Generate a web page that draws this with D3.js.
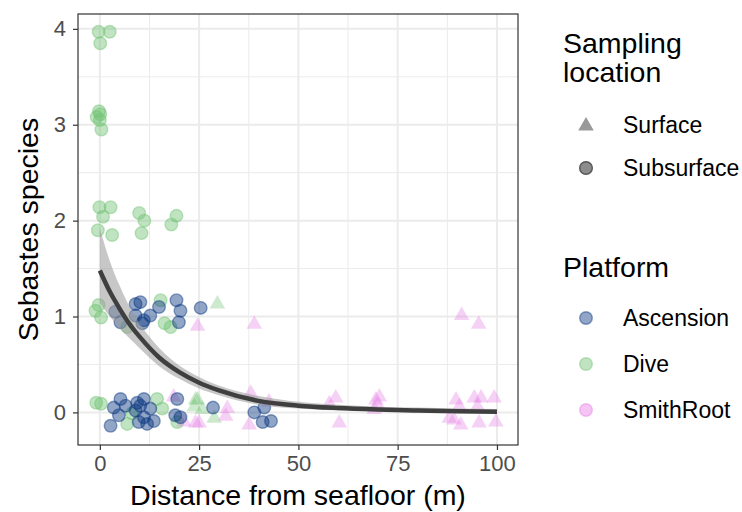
<!DOCTYPE html>
<html>
<head>
<meta charset="utf-8">
<script src="https://cdn.jsdelivr.net/npm/d3@7"></script>
<style>
  body { margin: 0; background: #fff; }
  text { font-family: "Liberation Sans", Arial, sans-serif; }
</style>
</head>
<body>
<div id="chart"></div>
<script>
// points, [distance, species] (jittered values)
const diveSub = [
  [-0.3,3.97],[2.5,3.97],[0.1,3.85],
  [-0.2,3.14],[0.1,3.11],[-0.8,3.08],[0.0,3.05],[0.4,2.95],
  [-0.1,2.14],[2.7,2.14],[0.8,2.04],[-0.5,1.90],[3.1,1.85],[9.9,2.08],[11.2,2.0],[10.5,1.87],[19.3,2.05],[18.0,1.96],
  [-0.3,1.12],[-1.1,1.06],[0.3,0.99],[6.9,0.89],[15.3,1.17],[16.3,0.93],[17.8,0.89],
  [-0.9,0.10],[0.3,0.09],[6.9,-0.12],[14.4,0.14],[15.7,0.04],[8.1,-0.01],[19.5,-0.10]
];
const diveSurf = [
  [29.6,1.14],[24.1,0.14],[24.6,0.14],[23.8,0.07],[25.8,0.04],[28.8,-0.05]
];
const ascensionSub = [
  [3.9,1.05],[5.2,0.94],[9.0,1.13],[10.2,1.15],[9.0,1.01],[10.7,0.93],[11.1,0.96],[12.7,1.01],
  [14.9,1.10],[19.3,1.17],[20.3,1.06],[19.9,0.94],[25.4,1.09],
  [5.2,0.14],[3.5,0.05],[4.8,-0.03],[2.7,-0.14],[6.5,0.07],[9.4,0.10],[10.2,0.07],[11.1,0.14],
  [9.0,0.02],[12.7,0.04],[9.8,-0.10],[11.9,-0.12],[13.6,-0.09],[11.1,-0.05],[19.5,0.14],
  [19.0,-0.03],[20.3,-0.05],[28.5,0.05],[38.9,0.0],[41.4,0.05],[41.0,-0.10],[43.1,-0.09]
];
const smithSurf = [
  [24.6,0.91],[38.9,0.93],[91.1,1.02],[95.4,0.93],
  [18.6,0.17],[21.2,-0.09],[24.1,-0.10],[25.0,-0.10],[32.1,0.05],[31.7,-0.03],[38.0,0.21],
  [37.6,-0.12],[42.6,0.12],[57.8,0.10],[59.4,0.16],[60.3,-0.10],[69.5,0.14],[69.1,0.04],
  [70.4,0.17],[69.9,0.09],[89.7,0.14],[90.5,0.07],[89.2,-0.07],[90.9,-0.12],[94.3,0.16],
  [96.0,0.16],[95.1,0.07],[95.5,-0.10],[99.3,0.16],[99.7,-0.09],[88.0,-0.05]
];

// fitted curve and ribbon
const fitX     = [0, 2.5, 5, 7.5, 10, 15, 20, 25, 30, 40, 50, 60, 70, 80, 90, 100];
const fitY     = [1.48, 1.26, 1.08, 0.92, 0.79, 0.57, 0.42, 0.31, 0.23, 0.12, 0.07, 0.045, 0.03, 0.02, 0.012, 0.008];
const fitUpper = [1.92, 1.58, 1.32, 1.10, 0.93, 0.67, 0.49, 0.37, 0.28, 0.17, 0.11, 0.08, 0.06, 0.05, 0.04, 0.035];
const fitLower = [1.14, 1.00, 0.88, 0.77, 0.67, 0.48, 0.35, 0.25, 0.18, 0.08, 0.04, 0.02, 0.01, 0.005, 0.002, 0.001];

const xTicks = [0, 25, 50, 75, 100];
const yTicks = [0, 1, 2, 3, 4];
const platforms = ["Ascension", "Dive", "SmithRoot"];
const platformColors = ["#0b3880", "#74c476", "#e67fe6"];
const locations = ["Surface", "Subsurface"];

const width = 742, height = 512;
const margin = {left:78, right:224, top:14, bottom:67};

const titleSize = 28.5, legendSize = 23, tickSize = 22;

let svg = d3.select("#chart").append("svg")
            .attr("width", width)
            .attr("height", height);

let xScale = d3.scaleLinear()
               .domain([-5.5, 105.3])
               .range([margin.left, width - margin.right]);

let yScale = d3.scaleLinear()
               .domain([-0.34, 4.155])
               .range([height - margin.bottom, margin.top]);

let colorScale = d3.scaleOrdinal().domain(platforms).range(platformColors);

//#region grid
let grid = svg.append("g");
grid.selectAll("line.xminor")
    .data([12.5, 37.5, 62.5, 87.5])
    .join("line")
    .attr("x1", d => xScale(d)).attr("x2", d => xScale(d))
    .attr("y1", margin.top).attr("y2", height - margin.bottom)
    .attr("stroke", "#ebebeb").attr("stroke-width", 1);
grid.selectAll("line.yminor")
    .data([0.5, 1.5, 2.5, 3.5])
    .join("line")
    .attr("x1", margin.left).attr("x2", width - margin.right)
    .attr("y1", d => yScale(d)).attr("y2", d => yScale(d))
    .attr("stroke", "#ebebeb").attr("stroke-width", 1);
grid.selectAll("line.xmajor")
    .data(xTicks)
    .join("line")
    .attr("x1", d => xScale(d)).attr("x2", d => xScale(d))
    .attr("y1", margin.top).attr("y2", height - margin.bottom)
    .attr("stroke", "#ebebeb").attr("stroke-width", 2);
grid.selectAll("line.ymajor")
    .data(yTicks)
    .join("line")
    .attr("x1", margin.left).attr("x2", width - margin.right)
    .attr("y1", d => yScale(d)).attr("y2", d => yScale(d))
    .attr("stroke", "#ebebeb").attr("stroke-width", 2);
//#endregion

//#region points
const alpha = 0.45;
const triangle = d3.symbol().type(d3.symbolTriangle).size(105);

function drawCircles(data, platform){
    svg.append("g").selectAll("circle")
        .data(data)
        .join("circle")
        .attr("cx", d => xScale(d[0]))
        .attr("cy", d => yScale(d[1]))
        .attr("r", 6.3)
        .attr("fill", colorScale(platform))
        .attr("fill-opacity", alpha)
        .attr("stroke", colorScale(platform))
        .attr("stroke-opacity", alpha)
        .attr("stroke-width", 1.4);
}

function drawTriangles(data, platform){
    svg.append("g").selectAll("path")
        .data(data)
        .join("path")
        .attr("d", triangle)
        .attr("transform", d => "translate(" + xScale(d[0]) + "," + (yScale(d[1]) + 1) + ")")
        .attr("fill", colorScale(platform))
        .attr("fill-opacity", alpha * 0.8);
}

drawCircles(diveSub, "Dive");
drawTriangles(diveSurf, "Dive");
drawTriangles(smithSurf, "SmithRoot");
drawCircles(ascensionSub, "Ascension");
//#endregion

//#region smooth
let fitData = fitX.map((x, i) => ({x: x, y: fitY[i], lo: fitLower[i], hi: fitUpper[i]}));

svg.append("path")
    .datum(fitData)
    .attr("d", d3.area().curve(d3.curveMonotoneX)
                 .x(d => xScale(d.x)).y0(d => yScale(d.lo)).y1(d => yScale(d.hi)))
    .attr("fill", "#999999")
    .attr("fill-opacity", 0.55);

svg.append("path")
    .datum(fitData)
    .attr("d", d3.line().curve(d3.curveMonotoneX).x(d => xScale(d.x)).y(d => yScale(d.y)))
    .attr("fill", "none")
    .attr("stroke", "#3f3f3f")
    .attr("stroke-width", 4.5);
//#endregion

//#region panel border and axes
svg.append("rect")
    .attr("x", margin.left).attr("y", margin.top)
    .attr("width", width - margin.right - margin.left)
    .attr("height", height - margin.bottom - margin.top)
    .attr("fill", "none").attr("stroke", "#333333").attr("stroke-width", 1.2);

let xAxis = d3.axisBottom(xScale).tickValues(xTicks).tickSize(5).tickPadding(5)
              .tickFormat(d3.format("d"));
let yAxis = d3.axisLeft(yScale).tickValues(yTicks).tickSize(5).tickPadding(7)
              .tickFormat(d3.format("d"));

let gx = svg.append("g")
    .attr("transform", "translate(0," + (height - margin.bottom) + ")")
    .call(xAxis);
let gy = svg.append("g")
    .attr("transform", "translate(" + margin.left + ",0)")
    .call(yAxis);

[gx, gy].forEach(g => {
    g.select(".domain").remove();
    g.selectAll(".tick line").attr("stroke", "#333333").attr("stroke-width", 1.2);
    g.selectAll(".tick text").attr("fill", "#4d4d4d").attr("font-size", tickSize)
        .style("font-family", "Liberation Sans, Arial, sans-serif");
});

svg.append("text")
    .attr("x", (margin.left + width - margin.right) / 2)
    .attr("y", 505)
    .attr("text-anchor", "middle")
    .attr("font-size", titleSize)
    .text("Distance from seafloor (m)");

svg.append("text")
    .attr("transform", "translate(38," + ((margin.top + height - margin.bottom) / 2) + ")rotate(-90)")
    .attr("text-anchor", "middle")
    .attr("font-size", titleSize)
    .text("Sebastes species");
//#endregion

//#region legends
const legX = 563, symX = 586, labX = 623;

svg.append("text").attr("x", legX).attr("y", 53).attr("font-size", titleSize).text("Sampling");
svg.append("text").attr("x", legX).attr("y", 82).attr("font-size", titleSize).text("location");

const locY = [125, 168];
svg.append("path")
    .attr("d", triangle)
    .attr("transform", "translate(" + symX + "," + (locY[0] + 1) + ")")
    .attr("fill", "#999999");
svg.append("circle")
    .attr("cx", symX).attr("cy", locY[1]).attr("r", 6.3)
    .attr("fill", "#8c8c8c").attr("stroke", "#555555").attr("stroke-width", 1.4);
svg.selectAll("text.loc")
    .data(locations)
    .join("text")
    .attr("class", "loc")
    .attr("x", labX)
    .attr("y", (d, i) => locY[i] + 8)
    .attr("font-size", legendSize)
    .text(d => d);

svg.append("text").attr("x", legX).attr("y", 277).attr("font-size", titleSize).text("Platform");

const platY = [318, 364, 410];
svg.selectAll("circle.plat")
    .data(platforms)
    .join("circle")
    .attr("class", "plat")
    .attr("cx", symX)
    .attr("cy", (d, i) => platY[i])
    .attr("r", 6.3)
    .attr("fill", d => colorScale(d))
    .attr("fill-opacity", alpha)
    .attr("stroke", d => colorScale(d))
    .attr("stroke-opacity", alpha)
    .attr("stroke-width", 1.4);
svg.selectAll("text.plat")
    .data(platforms)
    .join("text")
    .attr("class", "plat")
    .attr("x", labX)
    .attr("y", (d, i) => platY[i] + 8)
    .attr("font-size", legendSize)
    .text(d => d);
//#endregion
</script>
</body>
</html>
